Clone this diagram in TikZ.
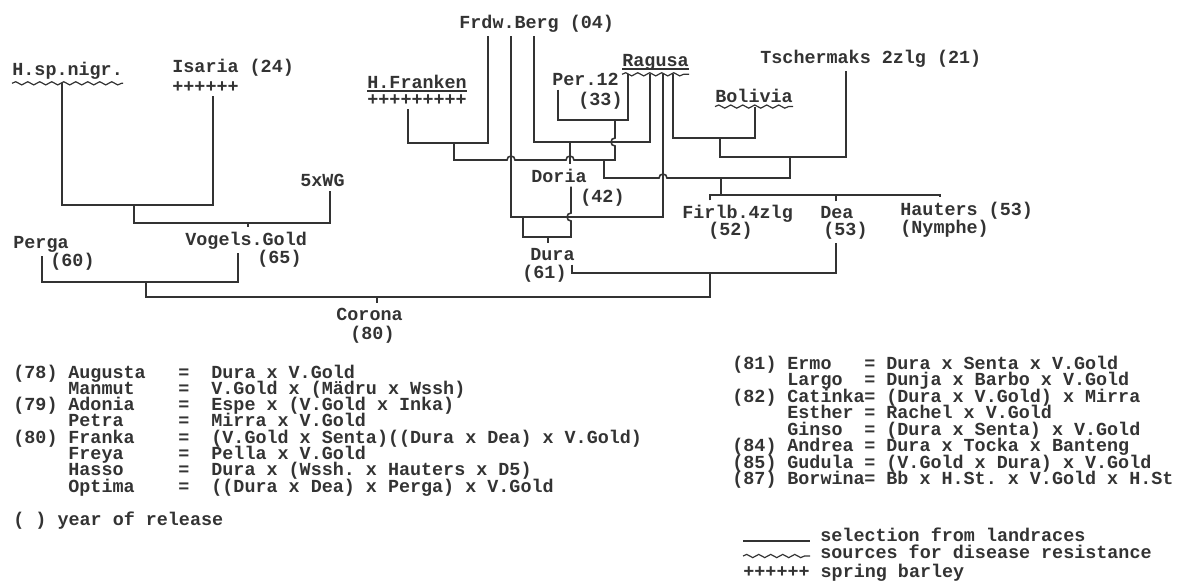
\documentclass[tikz,border=0pt]{standalone}
\usepackage{fontspec}
\newfontfamily\tw{Liberation Mono}
\usetikzlibrary{decorations.pathmorphing}
\definecolor{ink}{HTML}{333333}
\frenchspacing

\begin{document}
\begin{tikzpicture}[x=0.5pt, y=-0.5pt,
  lbl/.style={font=\tw\bfseries\fontsize{9.2}{11}\selectfont, text=ink,
    inner xsep=0pt, inner ysep=2pt, anchor=base west},
  wire/.style={draw=ink, line width=0.8pt},
  uline/.style={draw=ink, line width=0.6pt},
  wavy/.style={draw=ink, line width=0.6pt, decorate,
    decoration={snake, amplitude=0.8pt, segment length=6pt}}
]
  \useasboundingbox (0,0) rectangle (1200,585);

  % Ancestors
  \node[lbl] (frdw) at (459,28) {Frdw.Berg (04)};
  \node[lbl] (hsp) at (12,75) {H.sp.nigr.};
  \node[lbl] (isaria) at (172,72) {Isaria (24)};
  \node[lbl] (isplus) at (172,92) {++++++};
  \node[lbl] (hfr) at (367,88) {H.Franken};
  \node[lbl] (hfrplus) at (367,105) {+++++++++};
  \node[lbl] (per) at (552,85) {Per.12};
  \node[lbl] (per33) at (578,105) {(33)};
  \node[lbl] (rag) at (622,66) {Ragusa};
  \node[lbl] (bol) at (715,102) {Bolivia};
  \node[lbl] (tsch) at (760,63) {Tschermaks 2zlg (21)};
  \node[lbl] (fwg) at (300,186) {5xWG};

  % Underlines
  \draw[wavy] (hsp.south west) -- (hsp.south east);
  \draw[uline] ([yshift=-1.5pt]hfr.base west) -- ([yshift=-1.5pt]hfr.base east);
  \draw[uline] ([yshift=-1.5pt]rag.base west) -- ([yshift=-1.5pt]rag.base east);
  \draw[wavy] (rag.south west) -- (rag.south east);
  \draw[wavy] (bol.south west) -- (bol.south east);

  % Selections
  \node[lbl] (doria) at (531,182) {Doria};
  \node[lbl] (doria42) at (580,202) {(42)};
  \node[lbl] (firlb) at (682,218) {Firlb.4zlg};
  \node[lbl] (firlb52) at (708,235) {(52)};
  \node[lbl] (dea) at (820,218) {Dea};
  \node[lbl] (dea53) at (823,235) {(53)};
  \node[lbl] (haut) at (900,215) {Hauters (53)};
  \node[lbl] (nymphe) at (900,233) {(Nymphe)};
  \node[lbl] (vgold) at (185,245) {Vogels.Gold};
  \node[lbl] (vgold65) at (257,263) {(65)};
  \node[lbl] (perga) at (13,248) {Perga};
  \node[lbl] (perga60) at (50,266) {(60)};
  \node[lbl] (dura) at (530,260) {Dura};
  \node[lbl] (dura61) at (522,278) {(61)};
  \node[lbl] (corona) at (336,320) {Corona};
  \node[lbl] (corona80) at (350,339) {(80)};

  % Crossing points
  \coordinate (hi) at (134,205);
  \coordinate (hiw) at (248,223);
  \coordinate (pv) at (146,282);
  \coordinate (cor) at (377,297);
  \coordinate (dd) at (710,273);
  \coordinate (hf) at (454,143);
  \coordinate (fr1) at (570,142);
  \coordinate (pr) at (615,120);
  \coordinate (hfpr) at (604,160);
  \coordinate (rb) at (720,138);
  \coordinate (rbt) at (790,157);
  \coordinate (sib) at (721,178);
  \coordinate (fdh) at (721,195);
  \coordinate (fr2) at (523,217);
  \coordinate (dur) at (548,237);

  % Left line: Vogels.Gold and Perga
  \draw[wire] (62,0 |- hsp.south) |- (hi) -| (213,0 |- isplus.south);
  \draw[wire] (hi) |- (hiw) -| (330,0 |- fwg.south);
  \draw[wire] (hiw) -- (hiw |- vgold.north);
  \draw[wire] (42,0 |- perga.south) |- (pv) -| (238,0 |- vgold.south);

  % Corona
  \draw[wire] (pv) |- (cor) -| (dd);
  \draw[wire] (cor) -- (cor |- corona.north);
  \draw[wire] (572,0 |- dura.south) |- (dd) -| (836,0 |- dea53.south);

  % Frdw.Berg crosses
  \draw[wire] (408,0 |- hfrplus.south) |- (hf) -| (488,0 |- frdw.south);
  \draw[wire] (534,0 |- frdw.south) |- (fr1) -| (650,0 |- rag.south);
  \draw[wire] (fr1) -- (fr1 |- doria.north);
  \draw[wire] (558,0 |- per.south) |- (pr) -| (628,0 |- rag.south);
  \draw[wire] (hf) |- (507,160) arc[start angle=180, end angle=360, radius=4]
    -- (566,160) arc[start angle=180, end angle=360, radius=4]
    -- (615,160) -- (615,146) arc[start angle=90, end angle=270, radius=4]
    -- (pr);
  \draw[wire] (hfpr) |- (659,178) arc[start angle=180, end angle=360, radius=4]
    -- (rbt |- sib) -- (rbt);
  \draw[wire] (673,0 |- rag.south) |- (rb) -| (755,0 |- bol.south);
  \draw[wire] (rb) |- (rbt) -| (846,0 |- tsch.south);

  % Firlb.4zlg, Dea, Hauters
  \draw[wire] (sib) -- (fdh);
  \draw[wire] (710,0 |- firlb.north) |- (fdh) -| (940,0 |- haut.north);
  \draw[wire] (836,0 |- dea.north) -- (836,0 |- fdh);

  % Dura
  \draw[wire] (511,0 |- frdw.south) |- (fr2) -| (663,0 |- rag.south);
  \draw[wire] (fr2) |- (dur) -| (571,221) arc[start angle=90, end angle=270, radius=4]
    -- (571,0 |- doria.south);
  \draw[wire] (dur) -- (dur |- dura.north);

  % Released varieties
  \foreach \yr/\nm/\fm [count=\i from 0] in {
    {(78)}/Augusta/{Dura x V.Gold},
    {}/Manmut/{V.Gold x (Mädru x Wssh)},
    {(79)}/Adonia/{Espe x (V.Gold x Inka)},
    {}/Petra/{Mirra x V.Gold},
    {(80)}/Franka/{(V.Gold x Senta)((Dura x Dea) x V.Gold)},
    {}/Freya/{Pella x V.Gold},
    {}/Hasso/{Dura x (Wssh. x Hauters x D5)},
    {}/Optima/{((Dura x Dea) x Perga) x V.Gold}}
  {
    \node[lbl] (ly\i) at (13,378+16.3*\i) {\yr};
    \node[lbl] (ln\i) at (68,378+16.3*\i) {\nm};
    \node[lbl] (le\i) at (178,378+16.3*\i) {=};
    \node[lbl] (lf\i) at (211,378+16.3*\i) {\fm};
  }
  \foreach \yr/\nm/\fm [count=\i from 0] in {
    {(81)}/Ermo/{Dura x Senta x V.Gold},
    {}/Largo/{Dunja x Barbo x V.Gold},
    {(82)}/Catinka/{(Dura x V.Gold) x Mirra},
    {}/Esther/{Rachel x V.Gold},
    {}/Ginso/{(Dura x Senta) x V.Gold},
    {(84)}/Andrea/{Dura x Tocka x Banteng},
    {(85)}/Gudula/{(V.Gold x Dura) x V.Gold},
    {(87)}/Borwina/{Bb x H.St. x V.Gold x H.St}}
  {
    \node[lbl] (ry\i) at (732,369+16.5*\i) {\yr};
    \node[lbl] (rn\i) at (787,369+16.5*\i) {\nm};
    \node[lbl] (re\i) at (864,369+16.5*\i) {=};
    \node[lbl] (rf\i) at (886,369+16.5*\i) {\fm};
  }

  % Legend
  \node[lbl] (year) at (13,525) {( ) year of release};
  \node[lbl] (lgsel) at (820,541) {selection from landraces};
  \node[lbl] (lgres) at (820,558) {sources for disease resistance};
  \node[lbl] (lgspr) at (743,577) {++++++ spring barley};
  \draw[uline] ([xshift=-38.5pt]lgsel.base west) -- ([xshift=-5pt]lgsel.base west);
  \draw[wavy] ([xshift=-38.5pt, yshift=1pt]lgres.base west)
    -- ([xshift=-5pt, yshift=1pt]lgres.base west);
\end{tikzpicture}
\end{document}
